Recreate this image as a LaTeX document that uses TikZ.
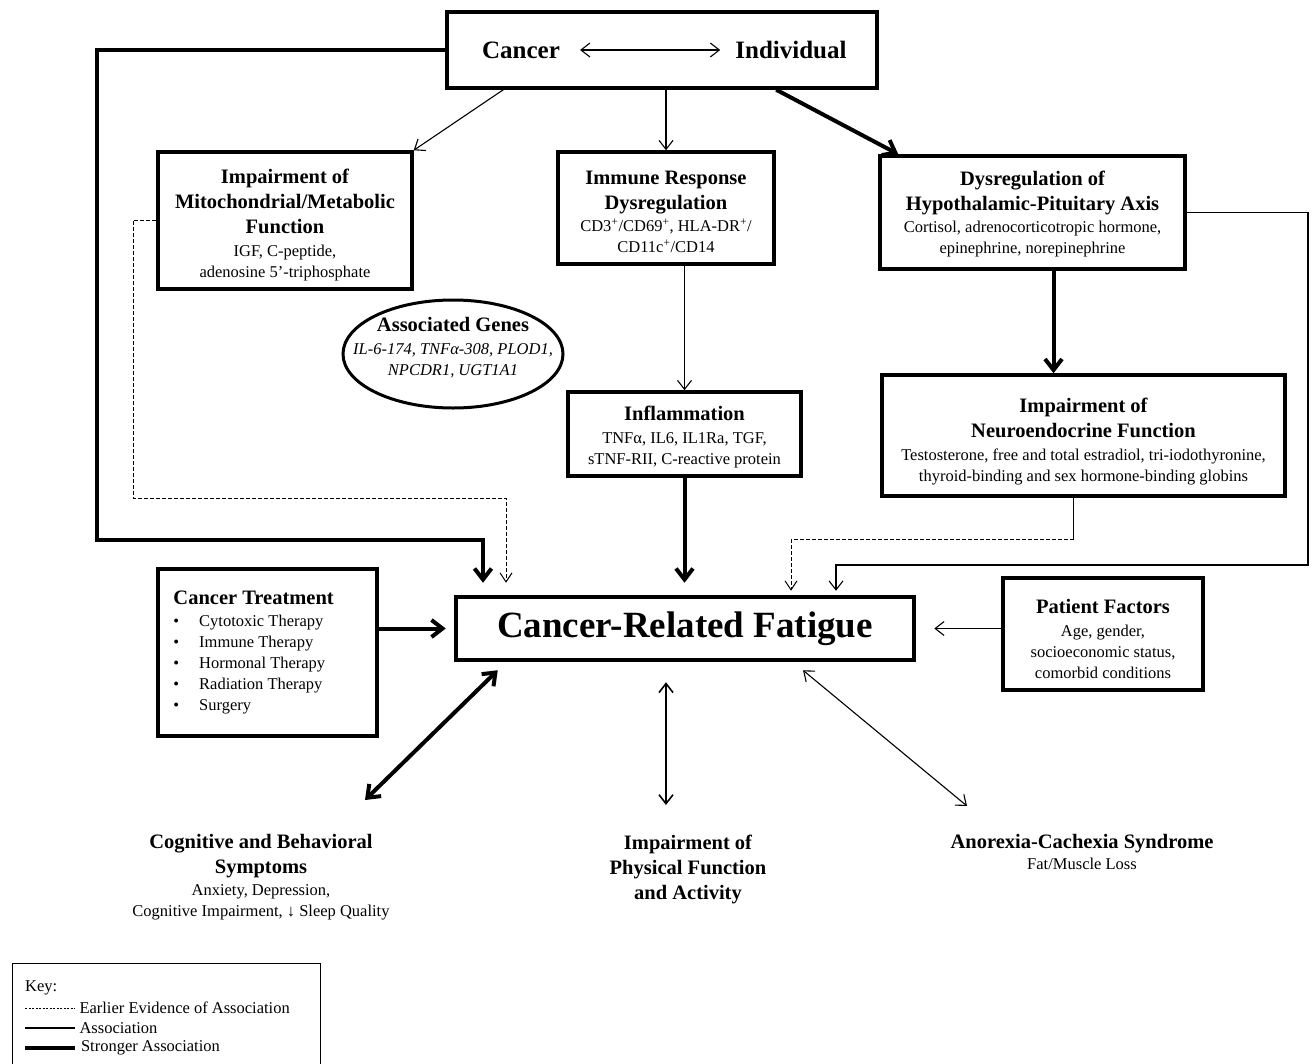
\documentclass[tikz,border=0pt]{standalone}
\usepackage{fontspec}
\setmainfont{Liberation Serif}
\usetikzlibrary{positioning, arrows.meta, shapes.geometric}
\newcommand{\hdfont}{\fontsize{20.5}{25}\selectfont\bfseries}
\newcommand{\smfont}{\fontsize{16.5}{21}\selectfont\mdseries}
\newcommand{\topfont}{\fontsize{25}{30}\selectfont\bfseries}
\newcommand{\crffont}{\fontsize{37}{44}\selectfont\bfseries}
\newcommand{\padtop}[1]{\rule{0pt}{\dimexpr 14pt+#1\relax}}

\begin{document}
\begin{tikzpicture}[x=1pt, y=-1pt,
  box/.style={draw, line width=3.5pt, align=center, inner sep=0pt, font=\smfont},
  txt/.style={align=center, inner sep=0pt, font=\smfont},
  assoc/.style={line width=1.1pt, >={Straight Barb[length=9pt,width=14pt]}},
  strong/.style={line width=4pt, >={Straight Barb[length=11pt,width=17pt]}},
  earlier/.style={line width=1pt, dash pattern=on 4pt off 2pt, >={Straight Barb[length=9pt,width=12pt]}}]
  \useasboundingbox (0,0) rectangle (1316,1063);
  \node[box, minimum width=430pt, minimum height=76pt] (top) at (662,50) {};
  \node[txt, font=\topfont] (cancer) at (521,50) {Cancer};
  \node[txt, font=\topfont] (indiv) at (791,50) {Individual};
  \node[box, minimum width=254pt, minimum height=137pt] (mito) at (285,220.5) {\hdfont\padtop{10pt}Impairment of\\[4pt] \hdfont Mitochondrial/Metabolic\\[4pt] \hdfont Function\\[2pt] \smfont IGF, C-peptide,\\ \smfont adenosine 5’-triphosphate};
  \node[box, minimum width=216pt, minimum height=112pt] (immune) at (666,208) {\hdfont\padtop{8pt}Immune Response\\[4pt] \hdfont Dysregulation\\[1pt] \smfont CD3\textsuperscript{+}/CD69\textsuperscript{+}, HLA-DR\textsuperscript{+}/\\ \smfont CD11c\textsuperscript{+}/CD14};
  \node[box, minimum width=305pt, minimum height=113pt] (hpa) at (1032.5,212.5) {\hdfont\padtop{4pt}Dysregulation of\\[4pt] \hdfont Hypothalamic-Pituitary Axis\\[1pt] \smfont Cortisol, adrenocorticotropic hormone,\\ \smfont epinephrine, norepinephrine};
  \node[draw, ellipse, line width=3pt, minimum width=220pt, minimum height=108pt] (genes) at (453,354) {};
  \node[txt] (genestxt) at ([yshift=6pt]genes.center) {\hdfont Associated Genes\\[2pt] \smfont\itshape IL-6-174, TNFα-308, PLOD1,\\ \smfont\itshape NPCDR1, UGT1A1};
  \node[box, minimum width=233pt, minimum height=84pt] (inflam) at (684.5,434) {\hdfont\padtop{6pt}Inflammation\\[2pt] \smfont TNFα, IL6, IL1Ra, TGF,\\ \smfont sTNF-RII, C-reactive protein};
  \node[box, minimum width=403pt, minimum height=121pt] (neuro) at (1083.5,435.5) {\hdfont\padtop{12pt}Impairment of\\[4pt] \hdfont Neuroendocrine Function\\[2pt] \smfont Testosterone, free and total estradiol, tri-iodothyronine,\\ \smfont thyroid-binding and sex hormone-binding globins};
  \node[box, line width=4.5pt, minimum width=458pt, minimum height=63pt, font=\crffont] (crf) at (685,628.5) {Cancer-Related Fatigue};
  \node[box, minimum width=219pt, minimum height=167pt] (treat) at (267.5,652.5) {};
  \node[txt, align=left, anchor=north west] (treatlist) at ([xshift=17pt,yshift=-23pt]treat.north west) {\hdfont Cancer Treatment\\[1pt] \smfont \textbullet\hspace{20pt}Cytotoxic Therapy\\ \smfont \textbullet\hspace{20pt}Immune Therapy\\ \smfont \textbullet\hspace{20pt}Hormonal Therapy\\ \smfont \textbullet\hspace{20pt}Radiation Therapy\\ \smfont \textbullet\hspace{20pt}Surgery};
  \node[box, minimum width=200pt, minimum height=112pt] (pat) at (1103,634) {\hdfont\padtop{10pt}Patient Factors\\[2pt] \smfont Age, gender,\\ \smfont socioeconomic status,\\ \smfont comorbid conditions};
  \node[txt] (cog) at (261,877) {\hdfont Cognitive and Behavioral\\[4pt] \hdfont Symptoms\\[1pt] \smfont Anxiety, Depression,\\ \smfont Cognitive Impairment, ↓ Sleep Quality};
  \node[txt] (phys) at (688,869) {\hdfont Impairment of\\[4pt] \hdfont Physical Function\\[4pt] \hdfont and Activity};
  \node[txt] (anor) at (1082,852) {\hdfont Anorexia-Cachexia Syndrome\\ \smfont Fat/Muscle Loss};
  \coordinate (cogtip) at (365,800);
  \coordinate (phystip) at (666,805);
  \coordinate (anortip) at (967,806);
  \draw[assoc, <->] ([xshift=20pt]cancer.east) -- ([xshift=-15pt]indiv.west);
  \draw[strong, ->] (top.west) -| (97,540) -| ([xshift=-202pt, yshift=12pt]crf.north);
  \draw[assoc, ->] ([xshift=58pt]top.south west) -- (mito.north east);
  \draw[assoc, ->] (top.south -| immune.north) -- (immune.north);
  \draw[strong, ->] ([xshift=331pt]top.south west) -- ([xshift=20pt]hpa.north west);
  \draw[strong, ->] ([xshift=21pt]hpa.south) -- ([xshift=21pt]hpa.south |- neuro.north);
  \draw[assoc, ->] (immune.south -| inflam.north) -- (inflam.north);
  \draw[strong, ->, shorten >=12pt] (inflam.south) -- (inflam.south |- crf.north);
  \draw[earlier, ->, shorten >=12pt] (mito.west) -| (133,498) -| ([xshift=-179pt]crf.north);
  \draw[assoc] ([xshift=-10pt]neuro.south) -- ++(0,42) coordinate (nbend);
  \draw[earlier, ->, shorten >=4pt] (nbend) -| ([xshift=106pt]crf.north);
  \draw[assoc, ->, shorten >=4pt] (hpa.east) -| (1308,565) -| ([xshift=151pt]crf.north);
  \draw[strong, ->, shorten >=8pt] (treat.east |- crf.west) -- (crf.west);
  \draw[assoc, ->, shorten >=18pt] (pat.west |- crf.east) -- (crf.east);
  \draw[strong, <->] ([shift={(44pt,-8pt)}]crf.south west) -- (cogtip);
  \draw[assoc, line width=1.6pt, <->] ([shift={(-19pt,-20pt)}]crf.south) -- (phystip);
  \draw[assoc, <->] ([shift={(118pt,-8pt)}]crf.south) -- (anortip);
  \node[draw, line width=1pt, minimum width=308pt, minimum height=120pt, anchor=north west] (key) at (12,963) {};
  \node[txt, anchor=west] (keyhd) at (25,988) {Key:};
  \draw[earlier, dash pattern=on 2pt off 1.5pt] (25,1008) -- (75,1008) node[right, font=\smfont, inner sep=4pt] (keyone) {Earlier Evidence of Association};
  \draw[assoc] (25,1028) -- (75,1028) node[right, font=\smfont, inner sep=4pt] (keytwo) {Association};
  \draw[strong] (25,1048) -- (75,1048) node[right, font=\smfont, inner sep=4pt] (keythree) {Stronger Association};
\end{tikzpicture}
\end{document}
